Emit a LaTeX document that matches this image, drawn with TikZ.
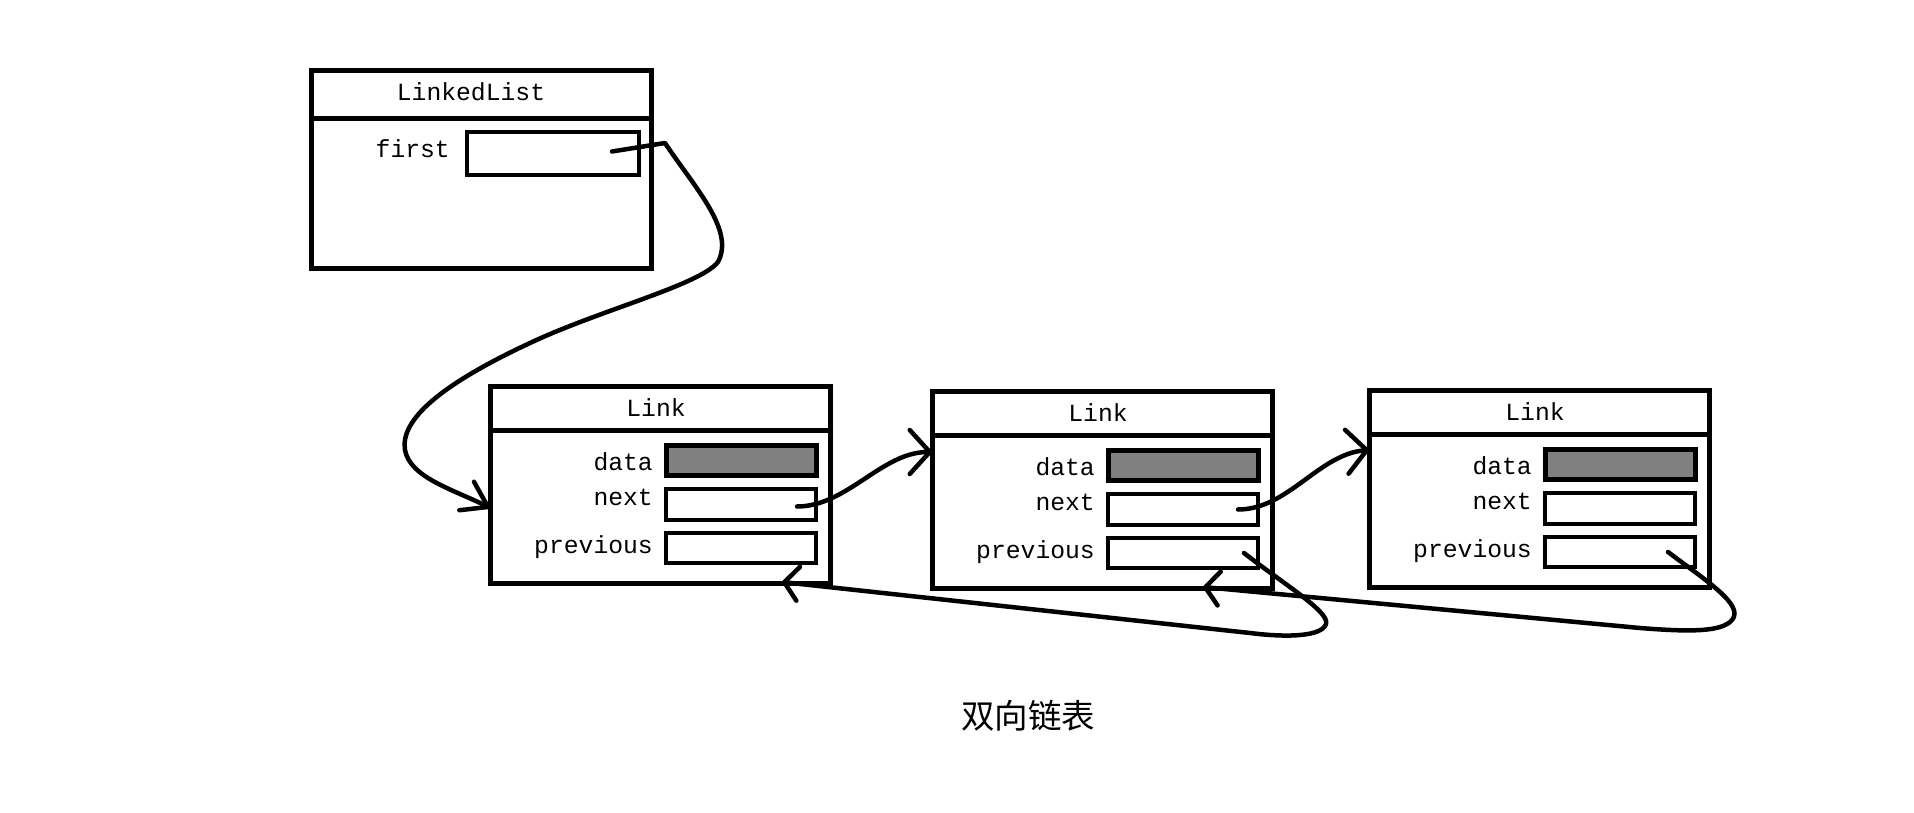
\documentclass[tikz,border=0pt]{standalone}
\usepackage{fontspec}
\newfontfamily\monof{Liberation Mono}
\newfontfamily\cjkf{Noto Sans CJK SC}
\usetikzlibrary{arrows.meta,calc}
\definecolor{datagray}{RGB}{128,128,128}
\begin{document}
\begin{tikzpicture}[x=1pt,y=-1pt,
  box/.style={draw, line width=5pt, minimum width=340pt, minimum height=197pt, anchor=north west, inner sep=0pt, outer sep=0pt},
  fld/.style={draw, line width=4.5pt, minimum width=150pt, minimum height=30pt, anchor=north west, inner sep=0pt, outer sep=0pt},
  datafld/.style={fld, fill=datagray, line width=5pt},
  lbl/.style={font=\monof\fontsize{24.7}{30}\selectfont, inner sep=0pt, anchor=base east},
  ttl/.style={font=\monof\fontsize{24.7}{30}\selectfont, inner sep=0pt, anchor=base},
  sep/.style={line width=5pt},
  conn/.style={line width=4.5pt, line cap=round, line join=round},
  tipbig/.style={-{Straight Barb[length=20pt,width=44pt,round]}},
  tipfirst/.style={-{Straight Barb[length=24pt,width=32pt,round]}},
  tipsmall/.style={-{Straight Barb[length=14pt,width=34pt,round]}},
]
\fill[white] (0,0) rectangle (1914,813);
\useasboundingbox (0,0) rectangle (1914,813);

% LinkedList
\node[box] (ll) at (311,71) {};
\draw[sep] ($(ll.north west)+(0,48)$) -- ($(ll.north east)+(0,48)$);
\node[ttl] (lltitle) at (471,101) {LinkedList};
\node[lbl] (firstlbl) at (450,158) {first};
\node[fld, minimum width=172pt, minimum height=43pt] (first) at (467,132) {};

% Link 1
\node[box] (link1) at (490,386) {};
\draw[sep] ($(link1.north west)+(0,44)$) -- ($(link1.north east)+(0,44)$);
\node[ttl] (t1) at (656,416) {Link};
\node[lbl] (d1l) at (653,470) {data};
\node[lbl] (n1l) at (653,505) {next};
\node[lbl] (p1l) at (653,553) {previous};
\node[datafld] (d1) at (666,445) {};
\node[fld, minimum height=31pt] (n1) at (666,489) {};
\node[fld] (p1) at (666,533) {};

% Link 2
\node[box] (link2) at (932,391) {};
\draw[sep] ($(link2.north west)+(0,44)$) -- ($(link2.north east)+(0,44)$);
\node[ttl] (t2) at (1098,421) {Link};
\node[lbl] (d2l) at (1095,475) {data};
\node[lbl] (n2l) at (1095,510) {next};
\node[lbl] (p2l) at (1095,558) {previous};
\node[datafld] (d2) at (1108,450) {};
\node[fld, minimum height=31pt] (n2) at (1108,494) {};
\node[fld] (p2) at (1108,538) {};

% Link 3
\node[box] (link3) at (1369,390) {};
\draw[sep] ($(link3.north west)+(0,44)$) -- ($(link3.north east)+(0,44)$);
\node[ttl] (t3) at (1535,420) {Link};
\node[lbl] (d3l) at (1532,474) {data};
\node[lbl] (n3l) at (1532,509) {next};
\node[lbl] (p3l) at (1532,557) {previous};
\node[datafld] (d3) at (1545,449) {};
\node[fld, minimum height=31pt] (n3) at (1545,493) {};
\node[fld] (p3) at (1545,537) {};

% caption
\node[font=\cjkf\fontsize{33.5}{40}\selectfont, inner sep=0pt] (cap) at (1028,716) {双向链表};

% connectors
\coordinate (c1s) at ($(first.east)+(-27,-2)$);
\coordinate (c1e) at ($(link1.north west)+(0,122)$);
\draw[conn, tipfirst] (c1s) -- (665,143) .. controls (695,188) and (735,230) .. (718,262)
  .. controls (700,285) and (600,310) .. (530,343)
  .. controls (440,385) and (400,420) .. (405,450)
  .. controls (410,478) and (455,490) .. (c1e);

\coordinate (c2s) at ($(n1.east)+(-19,2)$);
\coordinate (c2e) at ($(link2.north west)+(0,61)$);
\draw[conn, tipbig] (c2s) .. controls +(50,0) and +(-50,0) .. (c2e);

\coordinate (c3s) at ($(n2.east)+(-20,0)$);
\coordinate (c3e) at ($(link3.north west)+(0,60)$);
\draw[conn, tipbig] (c3s) .. controls +(50,0) and +(-50,4) .. (c3e);

\coordinate (c4s) at ($(p2.east)+(-14,0)$);
\coordinate (c4e) at ($(link1.south west)+(292,-1)$);
\draw[conn, tipsmall] (c4s) .. controls (1285,585) and (1330,612) .. (1326,624)
  .. controls (1322,636) and (1290,638) .. (1250,633) -- (c4e);

\coordinate (c5s) at ($(p3.east)+(-27,0)$);
\coordinate (c5e) at ($(link2.south west)+(271,-1)$);
\draw[conn, tipsmall] (c5s) .. controls (1705,580) and (1745,605) .. (1732,620)
  .. controls (1722,632) and (1690,632) .. (1640,628) -- (c5e);
\end{tikzpicture}
\end{document}
